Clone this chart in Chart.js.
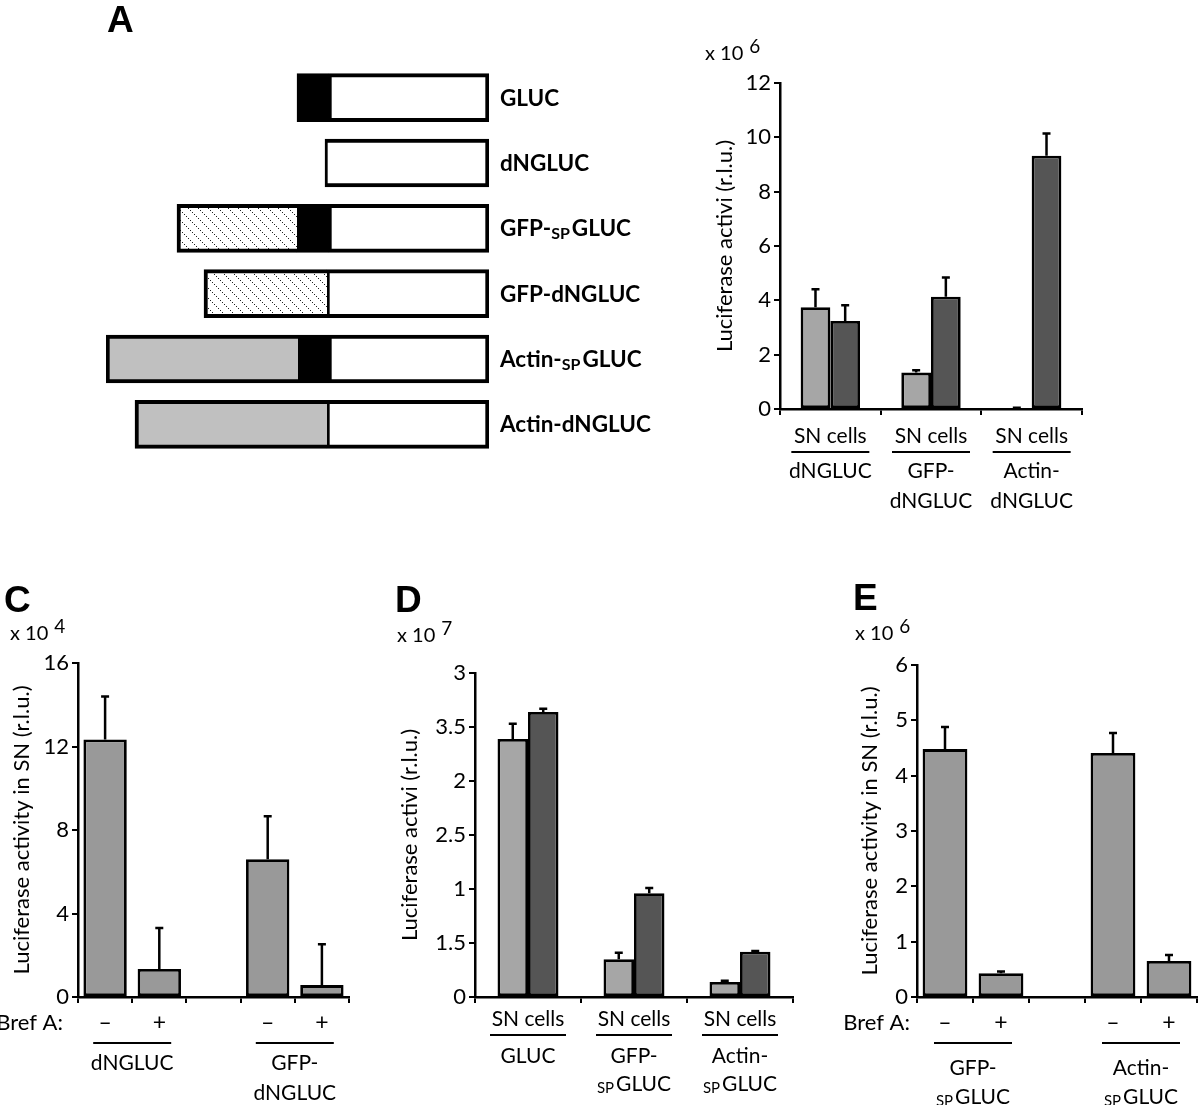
<!DOCTYPE html>
<html>
<head>
<meta charset="utf-8">
<script src="https://cdn.jsdelivr.net/npm/chart.js@4.4.0/dist/chart.umd.min.js"></script>
<style>
  html, body { margin: 0; padding: 0; background: #fff; }
  body { width: 1200px; height: 1105px; position: relative; overflow: hidden; }
  canvas { position: absolute; }
</style>
</head>
<body>
<script>
const FONT = 'Lato, "Open Sans", sans-serif';

// ---- Panel A: construct maps (segment start / end, arbitrary length units) ----
const constructs = ['GLUC', 'dNGLUC', 'GFP-{SP}GLUC', 'GFP-dNGLUC', 'Actin-{SP}GLUC', 'Actin-dNGLUC'];
const gfpSeg   = [null, null, [71, 191], [98, 221], null, null];
const actinSeg = [null, null, null, null, [0, 192], [29, 221]];
const spSeg    = [[191, 223], null, [191, 223], null, [192, 223], null];
const glucSeg  = [[223, 383], [219, 383], [223, 383], [221, 383], [223, 383], [221, 383]];

// ---- Panel B (x 10^6) ----
const bGroups = ['dNGLUC', 'GFP-dNGLUC', 'Actin-dNGLUC'];
const bNames = [['dNGLUC'], ['GFP-', 'dNGLUC'], ['Actin-', 'dNGLUC']];
const bSN = [3.75, 1.34, 0.03];
const bSNErr = [0.66, 0.09, 0.02];
const bCells = [3.24, 4.13, 9.32];
const bCellsErr = [0.58, 0.71, 0.82];
const bTicks = ['0', '2', '4', '6', '8', '10', '12'];

// ---- Panel C (x 10^4) ----
const cMarks = ['–', '+', '', '–', '+'];
const cNames = [['dNGLUC'], ['GFP-', 'dNGLUC']];
const cValues = [12.34, 1.34, null, 6.6, 0.57];
const cErr = [2.06, 1.96, null, 2.06, 1.96];
const cTicks = ['0', '4', '8', '12', '16'];

// ---- Panel D (x 10^7) ----
const dGroups = ['GLUC', 'GFP-SPGLUC', 'Actin-SPGLUC'];
const dNames = [['GLUC'], ['GFP-', '{SP}GLUC'], ['Actin-', '{SP}GLUC']];
const dSN = [2.39, 0.35, 0.14];
const dSNErr = [0.14, 0.06, 0.01];
const dCells = [2.64, 0.96, 0.42];
const dCellsErr = [0.03, 0.05, 0.005];
const dTicks = ['0', '1.5', '1', '2.5', '2', '3.5', '3'];

// ---- Panel E (x 10^6) ----
const eMarks = ['–', '+', '', '–', '+'];
const eNames = [['GFP-', '{SP}GLUC'], ['Actin-', '{SP}GLUC']];
const eValues = [4.48, 0.43, null, 4.41, 0.65];
const eErr = [0.40, 0.03, null, 0.36, 0.11];
const eTicks = ['0', '1', '2', '3', '4', '5', '6'];

// text with "{SP}" pieces drawn smaller and a little lower
function drawParts(ctx, str, x, cy, size, bold, align) {
  const parts = str.split(/(\{\w+\})/).filter(Boolean)
    .map(p => p[0] === '{' ? { t: p.slice(1, -1), s: true } : { t: p, s: false });
  const w = bold ? 'bold ' : '';
  const big = w + size + 'px ' + FONT;
  const small = w + Math.round(size * 0.72) + 'px ' + FONT;
  let total = 0;
  parts.forEach(p => {
    ctx.font = p.s ? small : big;
    p.w = ctx.measureText(p.t).width + (p.s ? 2 : 0);
    total += p.w;
  });
  let px = align === 'left' ? x : align === 'right' ? x - total : x - total / 2;
  const base = cy + size * 0.36;
  ctx.textAlign = 'left';
  ctx.textBaseline = 'alphabetic';
  parts.forEach(p => {
    ctx.font = p.s ? small : big;
    ctx.fillText(p.t, px, base + (p.s ? size * 0.13 : 0));
    px += p.w;
  });
}

const errorBars = {
  id: 'errorBars',
  afterDatasetsDraw(chart) {
    const { ctx, scales: { y } } = chart;
    ctx.save();
    ctx.strokeStyle = '#000';
    ctx.lineWidth = 2.5;
    chart.data.datasets.forEach((ds, di) => {
      if (!ds.errors) return;
      chart.getDatasetMeta(di).data.forEach((bar, i) => {
        const v = ds.data[i], e = ds.errors[i];
        if (v == null || e == null) return;
        const top = y.getPixelForValue(v + e);
        ctx.beginPath();
        ctx.moveTo(bar.x, bar.y);
        ctx.lineTo(bar.x, top);
        ctx.moveTo(bar.x - 4, top);
        ctx.lineTo(bar.x + 4, top);
        ctx.stroke();
      });
    });
    ctx.restore();
  }
};

// labels under the x axis: per-bar marks, group text, underline, construct names
const underAxis = {
  id: 'underAxis',
  afterDraw(chart, args, o) {
    if (!o.names) return;
    const { ctx, chartArea: a, scales: { x } } = chart;
    ctx.save();
    ctx.fillStyle = '#000';
    ctx.strokeStyle = '#000';
    (o.marks || []).forEach((m, i) => {
      if (m) drawParts(ctx, m, x.getPixelForValue(i), a.bottom + o.markDy, 23);
    });
    if (o.lead) drawParts(ctx, o.lead, a.left + o.leadDx, a.bottom + o.markDy, 22, false, 'right');
    o.names.forEach((lines, i) => {
      const cx = x.getPixelForValue(o.groupAt[i]);
      if (o.top) drawParts(ctx, o.top, cx, a.bottom + o.topDy, 21);
      ctx.lineWidth = 2;
      ctx.beginPath();
      ctx.moveTo(cx - o.half, a.bottom + o.lineDy);
      ctx.lineTo(cx + o.half, a.bottom + o.lineDy);
      ctx.stroke();
      lines.forEach((l, j) => drawParts(ctx, l, cx, a.bottom + o.nameDy + j * o.gap, 21));
    });
    ctx.restore();
  }
};

// panel letter and the "x 10^n" multiplier
const corner = {
  id: 'corner',
  afterDraw(chart, args, o) {
    const ctx = chart.ctx;
    ctx.save();
    ctx.fillStyle = '#000';
    ctx.textAlign = 'left';
    ctx.textBaseline = 'alphabetic';
    ctx.font = 'bold 37px "Liberation Sans", Arial, sans-serif';
    ctx.fillText(o.letter, o.lx, o.ly);
    if (o.exp) {
      ctx.font = '20px ' + FONT;
      ctx.fillText('x 10', o.ex, o.ey);
      const w = ctx.measureText('x 10').width + 6;
      ctx.font = '19px ' + FONT;
      ctx.fillText(o.exp, o.ex + w, o.ey - 7);
    }
    ctx.restore();
  }
};

const rowLabels = {
  id: 'rowLabels',
  afterDraw(chart) {
    const { ctx, chartArea: a, scales: { y } } = chart;
    ctx.save();
    ctx.fillStyle = '#000';
    chart.data.labels.forEach((t, i) => drawParts(ctx, t, a.right + 11, y.getPixelForValue(i), 22.5, true, 'left'));
    ctx.restore();
  }
};

function addCanvas(x, y, w, h) {
  const cv = document.createElement('canvas');
  cv.width = w; cv.height = h;
  cv.style.left = x + 'px';
  cv.style.top = y + 'px';
  document.body.appendChild(cv);
  return cv;
}

// Panel A
const cvA = addCanvas(0, 0, 700, 540);
const tile = document.createElement('canvas');
tile.width = 10; tile.height = 10;
const tg = tile.getContext('2d');
tg.fillStyle = '#fff';
tg.fillRect(0, 0, 10, 10);
tg.fillStyle = '#222';
for (let i = 0; i < 10; i += 2) tg.fillRect(i, i, 1, 1);
const hatch = cvA.getContext('2d').createPattern(tile, 'repeat');

new Chart(cvA, {
  type: 'bar',
  data: {
    labels: constructs,
    datasets: [
      { data: gfpSeg, backgroundColor: hatch, borderWidth: { top: 4, bottom: 4, left: 4, right: 0 } },
      { data: actinSeg, backgroundColor: '#c0c0c0', borderWidth: { top: 4, bottom: 4, left: 4, right: 0 } },
      { data: spSeg, backgroundColor: '#000', borderWidth: { top: 4, bottom: 4, left: 4, right: 0 } },
      { data: glucSeg, backgroundColor: '#fff', borderWidth: { top: 4, bottom: 4, left: 3, right: 4 } }
    ].map(d => Object.assign(d, { borderColor: '#000', borderSkipped: false, barThickness: 48 }))
  },
  options: {
    indexAxis: 'y',
    responsive: false,
    animation: false,
    events: [],
    layout: { padding: { left: 106, right: 211, top: 65, bottom: 83 } },
    plugins: {
      legend: { display: false },
      tooltip: { enabled: false },
      corner: { letter: 'A', lx: 107, ly: 32 }
    },
    scales: {
      x: { display: false, min: 0, max: 383, stacked: false },
      y: { display: false, stacked: true }
    }
  },
  plugins: [rowLabels, corner]
});

function barChart(box, spec) {
  const cv = addCanvas(box.x, box.y, box.w, box.h);
  return new Chart(cv, {
    type: 'bar',
    data: {
      labels: spec.labels,
      datasets: spec.series.map(s => ({
        data: s.values,
        errors: s.errors,
        backgroundColor: s.color,
        borderColor: '#000',
        borderWidth: 2.8,
        borderSkipped: false,
        categoryPercentage: spec.catPct,
        barPercentage: 1
      }))
    },
    options: {
      responsive: false,
      animation: false,
      events: [],
      layout: { padding: spec.pad },
      plugins: {
        legend: { display: false },
        tooltip: { enabled: false },
        underAxis: spec.under,
        corner: spec.corner
      },
      scales: {
        x: {
          grid: { offset: true, drawOnChartArea: false, tickLength: 6, color: '#000', lineWidth: 2 },
          border: { color: '#000', width: 2.5 },
          ticks: { display: false },
          afterFit: s => { s.height = 8; }
        },
        y: {
          min: 0,
          max: spec.max,
          ticks: {
            stepSize: spec.step,
            autoSkip: false,
            padding: 3,
            color: '#000',
            font: { family: FONT, size: 22 },
            callback: (v, i) => spec.ticks[i]
          },
          grid: { drawOnChartArea: false, tickLength: 6, color: '#000', lineWidth: 2 },
          border: { color: '#000', width: 2.5 },
          title: {
            display: true,
            text: spec.title,
            color: '#000',
            font: { family: FONT, size: 22 },
            padding: { top: spec.titleOff - 13.2, bottom: 0 }
          },
          afterFit: s => { s.width = spec.axisW; }
        }
      }
    },
    plugins: [errorBars, underAxis, corner]
  });
}

// Panel B
barChart({ x: 700, y: 0, w: 500, h: 540 }, {
  labels: bGroups,
  series: [
    { values: bSN, errors: bSNErr, color: '#a6a6a6' },
    { values: bCells, errors: bCellsErr, color: '#555555' }
  ],
  catPct: 0.59,
  max: 12, step: 2, ticks: bTicks,
  title: 'Luciferase activi (r.l.u.)', titleOff: 25, axisW: 80,
  pad: { left: 0, right: 118, top: 83, bottom: 123 },
  under: { top: 'SN cells', topDy: 26, lineDy: 43, half: 39, nameDy: 61, gap: 30, groupAt: [0, 1, 2], names: bNames },
  corner: { letter: 'B', lx: 703, ly: 33, exp: '6', ex: 5, ey: 60 }
});

// Panel C
barChart({ x: 0, y: 560, w: 380, h: 545 }, {
  labels: cMarks,
  series: [{ values: cValues, errors: cErr, color: '#999999' }],
  catPct: 0.8,
  max: 16, step: 4, ticks: cTicks,
  title: 'Luciferase activity in SN (r.l.u.)', titleOff: 22, axisW: 78,
  pad: { left: 0, right: 31, top: 103, bottom: 100 },
  under: { marks: cMarks, markDy: 25, lead: 'Bref A:', leadDx: -15, lineDy: 46, half: 39, nameDy: 65, gap: 30, groupAt: [0.5, 3.5], names: cNames },
  corner: { letter: 'C', lx: 4, ly: 52, exp: '4', ex: 10, ey: 80 }
});

// Panel D
barChart({ x: 380, y: 560, w: 420, h: 545 }, {
  labels: dGroups,
  series: [
    { values: dSN, errors: dSNErr, color: '#a6a6a6' },
    { values: dCells, errors: dCellsErr, color: '#555555' }
  ],
  catPct: 0.575,
  max: 3, step: 0.5, ticks: dTicks,
  title: 'Luciferase activi (r.l.u.)', titleOff: 30, axisW: 95,
  pad: { left: 0, right: 7, top: 113, bottom: 100 },
  under: { top: 'SN cells', topDy: 21, lineDy: 38, half: 38, nameDy: 58, gap: 28, groupAt: [0, 1, 2], names: dNames },
  corner: { letter: 'D', lx: 15, ly: 52, exp: '7', ex: 17, ey: 82 }
});

// Panel E
barChart({ x: 800, y: 560, w: 400, h: 545 }, {
  labels: eMarks,
  series: [{ values: eValues, errors: eErr, color: '#999999' }],
  catPct: 0.8,
  max: 6, step: 1, ticks: eTicks,
  title: 'Luciferase activity in SN (r.l.u.)', titleOff: 70, axisW: 117,
  pad: { left: 0, right: 3, top: 105, bottom: 100 },
  under: { marks: eMarks, markDy: 25, lead: 'Bref A:', leadDx: -7, lineDy: 46, half: 39, nameDy: 70, gap: 29, groupAt: [0.5, 3.5], names: eNames },
  corner: { letter: 'E', lx: 53, ly: 50, exp: '6', ex: 55, ey: 80 }
});
</script>
</body>
</html>
